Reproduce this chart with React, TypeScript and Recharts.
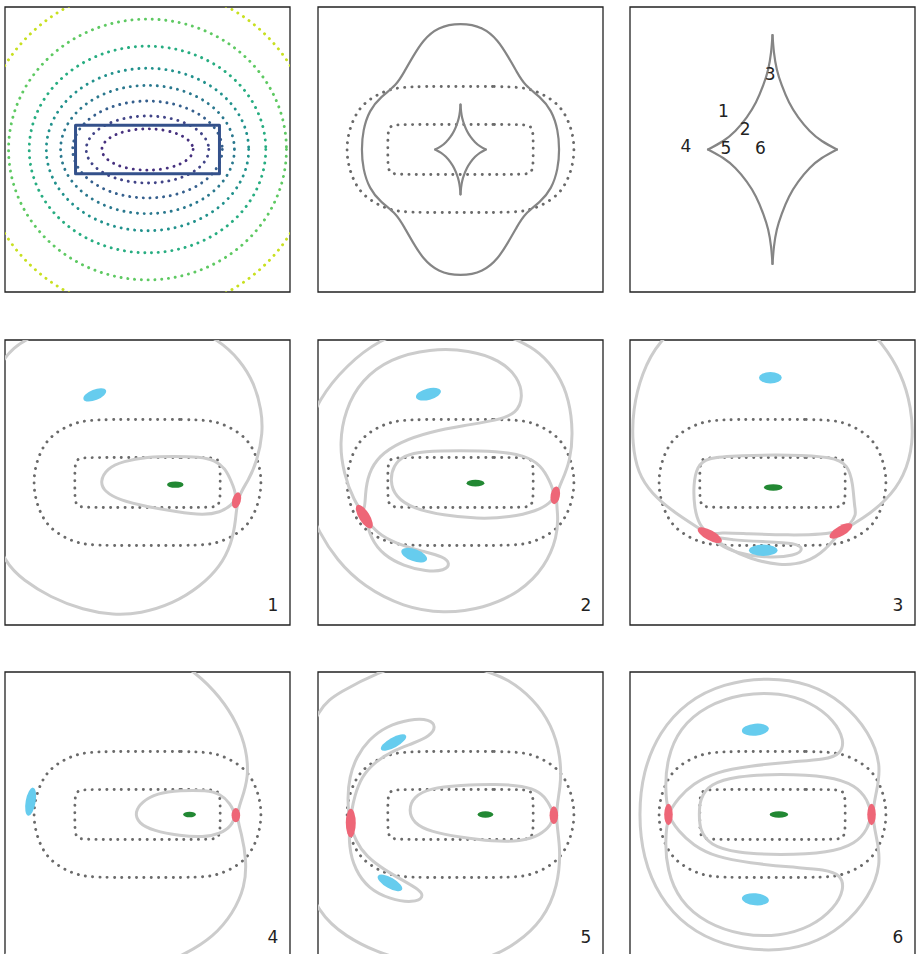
import React from 'react';
import { ScatterChart, Scatter, XAxis, YAxis, ReferenceArea } from 'recharts';

type XY = [number, number];
type Kind = 'min' | 'saddle' | 'max';
interface LensImage { kind: Kind; x: number; y: number; a: number; b: number; angle: number }

// ---- top row: potential contours, critical curves, caustics (lens units) ----
const contourLevels = [
  { level: 0, a: 0.64, b: 0.29 },
  { level: 1, a: 0.86, b: 0.47 },
  { level: 2, a: 1.05, b: 0.68 },
  { level: 3, a: 1.22, b: 0.9 },
  { level: 4, a: 1.42, b: 1.14 },
  { level: 5, a: 1.66, b: 1.45 },
  { level: 6, a: 1.95, b: 1.83 },
  { level: 7, a: 2.34, b: 2.28 },
];

const lensBox: XY[] = [[-1.01, 0.34], [1.01, 0.34], [1.01, -0.34], [-1.01, -0.34]];

const innerCritical: XY[] = [
  [0, 0.35], [0.5, 0.35], [0.85, 0.35], [0.95, 0.34], [1.0, 0.31], [1.02, 0.22], [1.02, 0], [1.02, -0.22],
  [1.0, -0.31], [0.95, -0.34], [0.85, -0.35], [0.5, -0.35], [0, -0.35], [-0.5, -0.35], [-0.85, -0.35],
  [-0.95, -0.34], [-1.0, -0.31], [-1.02, -0.22], [-1.02, 0], [-1.02, 0.22], [-1.0, 0.31], [-0.95, 0.34],
  [-0.85, 0.35], [-0.5, 0.35],
];

const outerCritical: XY[] = [
  [0, 0.885], [0.5, 0.885], [0.83, 0.875], [1.0, 0.84], [1.18, 0.765], [1.38, 0.63], [1.5, 0.44], [1.575, 0.22],
  [1.6, 0], [1.575, -0.22], [1.5, -0.44], [1.38, -0.63], [1.18, -0.765], [1.0, -0.84], [0.83, -0.875],
  [0.5, -0.885], [0, -0.885], [-0.5, -0.885], [-0.83, -0.875], [-1.0, -0.84], [-1.18, -0.765], [-1.38, -0.63],
  [-1.5, -0.44], [-1.575, -0.22], [-1.6, 0], [-1.575, 0.22], [-1.5, 0.44], [-1.38, 0.63], [-1.18, 0.765],
  [-1.0, 0.84], [-0.83, 0.875], [-0.5, 0.885],
];

const cutCurve: XY[] = [
  [0, 1.78], [0.32, 1.72], [0.53, 1.53], [0.67, 1.3], [0.79, 1.09], [0.9, 0.9], [1.12, 0.74], [1.28, 0.55],
  [1.37, 0.27], [1.39, 0], [1.37, -0.27], [1.28, -0.55], [1.12, -0.74], [0.9, -0.9], [0.79, -1.09],
  [0.67, -1.3], [0.53, -1.53], [0.32, -1.72], [0, -1.78], [-0.32, -1.72], [-0.53, -1.53], [-0.67, -1.3],
  [-0.79, -1.09], [-0.9, -0.9], [-1.12, -0.74], [-1.28, -0.55], [-1.37, -0.27], [-1.39, 0], [-1.37, 0.27],
  [-1.28, 0.55], [-1.12, 0.74], [-0.9, 0.9], [-0.79, 1.09], [-0.67, 1.3], [-0.53, 1.53], [-0.32, 1.72],
];

const causticTopRight: XY[] = [
  [0, 0.63], [0.008, 0.535], [0.024, 0.441], [0.051, 0.354], [0.091, 0.26], [0.142, 0.177], [0.205, 0.102],
  [0.272, 0.047], [0.355, 0],
];
const causticTopLeft: XY[] = [
  [0, 0.63], [-0.008, 0.535], [-0.024, 0.441], [-0.051, 0.354], [-0.091, 0.26], [-0.142, 0.177],
  [-0.205, 0.102], [-0.272, 0.047], [-0.355, 0],
];
const causticBottomRight: XY[] = [
  [0, -0.63], [0.008, -0.535], [0.024, -0.441], [0.051, -0.354], [0.091, -0.26], [0.142, -0.177],
  [0.205, -0.102], [0.272, -0.047], [0.355, 0],
];
const causticBottomLeft: XY[] = [
  [0, -0.63], [-0.008, -0.535], [-0.024, -0.441], [-0.051, -0.354], [-0.091, -0.26], [-0.142, -0.177],
  [-0.205, -0.102], [-0.272, -0.047], [-0.355, 0],
];

const sourcePositions = [
  { name: '1', x: -0.271, y: 0.21 },
  { name: '2', x: -0.151, y: 0.111 },
  { name: '3', x: -0.013, y: 0.415 },
  { name: '4', x: -0.477, y: 0.022 },
  { name: '5', x: -0.256, y: 0.006 },
  { name: '6', x: -0.066, y: 0.006 },
];

// ---- lensed views of sources 1..6 ----
const p1Outer: XY[] = [
  [1.26, -0.2], [1.42, 0.03], [1.54, 0.31], [1.62, 0.69], [1.6, 1.02], [1.5, 1.39], [1.3, 1.72], [0.99, 2.01],
  [0.55, 2.21], [-0.01, 2.33], [-0.57, 2.33], [-1.14, 2.23], [-1.6, 2.07], [-1.88, 1.9], [-2.12, 1.62],
  [-2.3, 0.92], [-2.35, 0.22], [-2.26, -0.48], [-2.0, -1.14], [-1.74, -1.37], [-1.37, -1.61], [-0.9, -1.79],
  [-0.48, -1.86], [-0.1, -1.84], [0.36, -1.7], [0.74, -1.46], [1.02, -1.18], [1.18, -0.86], [1.24, -0.53],
];
const p1Inner: XY[] = [
  [1.26, -0.2], [1.18, 0.01], [1.09, 0.2], [0.95, 0.31], [0.74, 0.36], [0.36, 0.37], [-0.01, 0.36],
  [-0.34, 0.3], [-0.57, 0.2], [-0.67, 0.01], [-0.6, -0.13], [-0.39, -0.25], [-0.01, -0.34], [0.41, -0.41],
  [0.78, -0.46], [1.02, -0.42], [1.18, -0.32],
];
const p1Images: LensImage[] = [
  { kind: 'min', x: -0.74, y: 1.23, a: 0.17, b: 0.075, angle: 22 },
  { kind: 'max', x: 0.39, y: -0.03, a: 0.115, b: 0.045, angle: 0 },
  { kind: 'saddle', x: 1.25, y: -0.25, a: 0.115, b: 0.06, angle: 75 },
];

const p2Outer: XY[] = [
  [1.33, -0.18], [1.43, 0.03], [1.54, 0.31], [1.58, 0.69], [1.53, 1.16], [1.37, 1.53], [1.12, 1.83],
  [0.79, 2.01], [0.37, 2.16], [-0.15, 2.21], [-0.66, 2.16], [-1.13, 2.01], [-1.6, 1.65], [-2.0, 1.16],
  [-2.16, 0.69], [-2.21, 0.13], [-2.11, -0.39], [-2.0, -0.67], [-1.74, -1.09], [-1.36, -1.46], [-0.8, -1.75],
  [-0.24, -1.84], [0.32, -1.77], [0.84, -1.54], [1.19, -1.18], [1.36, -0.76], [1.37, -0.44],
];
const p2Upper: XY[] = [
  [-1.34, -0.48], [-1.5, -0.25], [-1.64, 0.13], [-1.7, 0.55], [-1.62, 1.02], [-1.39, 1.44], [-0.99, 1.74],
  [-0.43, 1.88], [0.13, 1.86], [0.55, 1.72], [0.81, 1.48], [0.88, 1.2], [0.79, 0.97], [0.51, 0.87],
  [0.04, 0.8], [-0.43, 0.71], [-0.85, 0.57], [-1.15, 0.37], [-1.29, 0.13], [-1.34, -0.15],
];
const p2Lower: XY[] = [
  [-1.34, -0.48], [-1.18, -0.71], [-0.9, -0.86], [-0.52, -0.97], [-0.24, -1.04], [-0.14, -1.14],
  [-0.22, -1.24], [-0.48, -1.25], [-0.8, -1.17], [-1.08, -1.02], [-1.26, -0.79],
];
const p2Inner: XY[] = [
  [1.33, -0.18], [1.25, 0.03], [1.13, 0.24], [0.91, 0.38], [0.51, 0.44], [-0.01, 0.45], [-0.52, 0.44],
  [-0.8, 0.38], [-0.94, 0.24], [-0.99, 0.03], [-0.92, -0.2], [-0.66, -0.37], [-0.24, -0.46], [0.23, -0.51],
  [0.7, -0.49], [1.07, -0.4], [1.26, -0.29],
];
const p2Images: LensImage[] = [
  { kind: 'min', x: -0.45, y: 1.24, a: 0.18, b: 0.08, angle: 15 },
  { kind: 'min', x: -0.65, y: -1.02, a: 0.19, b: 0.085, angle: -20 },
  { kind: 'max', x: 0.21, y: -0.01, a: 0.125, b: 0.047, angle: 0 },
  { kind: 'saddle', x: -1.35, y: -0.48, a: 0.19, b: 0.075, angle: -58 },
  { kind: 'saddle', x: 1.33, y: -0.18, a: 0.125, b: 0.065, angle: 80 },
];

const p3Outer: XY[] = [
  [0.95, -0.68], [1.27, -0.51], [1.6, -0.25], [1.85, 0.08], [1.98, 0.55], [1.95, 1.06], [1.81, 1.53],
  [1.55, 1.95], [1.22, 2.28], [0.75, 2.49], [0.0, 2.56], [-0.74, 2.49], [-1.21, 2.28], [-1.59, 2.0],
  [-1.84, 1.53], [-1.96, 1.02], [-1.97, 0.55], [-1.89, 0.13], [-1.7, -0.15], [-1.4, -0.41], [-0.89, -0.73],
  [-0.63, -0.93], [-0.32, -1.07], [0.1, -1.17], [0.47, -1.13], [0.75, -0.95],
];
const p3Inner: XY[] = [
  [-0.88, -0.74], [-1.03, -0.6], [-1.1, -0.35], [-1.11, -0.02], [-1.06, 0.22], [-0.93, 0.35], [-0.46, 0.38],
  [0.24, 0.39], [0.85, 0.36], [1.06, 0.25], [1.13, -0.02], [1.15, -0.35], [1.18, -0.45], [1.08, -0.6],
  [0.96, -0.68], [0.71, -0.73], [0.24, -0.74], [-0.37, -0.72], [-0.74, -0.7],
];
const p3Lobe: XY[] = [
  [-0.88, -0.74], [-0.6, -0.81], [-0.09, -0.83], [0.33, -0.85], [0.44, -0.93], [0.33, -1.03], [-0.09, -1.06],
  [-0.51, -0.99], [-0.77, -0.86],
];
const p3Images: LensImage[] = [
  { kind: 'min', x: -0.03, y: 1.47, a: 0.16, b: 0.08, angle: 0 },
  { kind: 'min', x: -0.13, y: -0.95, a: 0.2, b: 0.08, angle: 0 },
  { kind: 'max', x: 0.01, y: -0.07, a: 0.13, b: 0.047, angle: 0 },
  { kind: 'saddle', x: -0.88, y: -0.74, a: 0.19, b: 0.07, angle: -29 },
  { kind: 'saddle', x: 0.96, y: -0.68, a: 0.18, b: 0.07, angle: 30 },
];

const p4Outer: XY[] = [
  [1.24, -0.01], [1.32, 0.2], [1.42, 0.53], [1.39, 0.91], [1.26, 1.28], [1.02, 1.65], [0.69, 1.99],
  [0.18, 2.31], [-0.67, 2.54], [-1.6, 2.45], [-2.44, 1.94], [-2.91, 1.23], [-3.1, 0.3], [-3.0, -0.64],
  [-2.54, -1.58], [-1.84, -2.14], [-0.9, -2.32], [0.04, -2.18], [0.55, -1.95], [0.92, -1.72], [1.2, -1.39],
  [1.37, -1.01], [1.39, -0.64], [1.32, -0.26],
];
const p4Inner: XY[] = [
  [1.24, -0.01], [1.16, 0.16], [1.02, 0.29], [0.83, 0.34], [0.46, 0.34], [0.13, 0.3], [-0.08, 0.18],
  [-0.18, 0.03], [-0.13, -0.12], [0.08, -0.23], [0.46, -0.3], [0.78, -0.32], [1.02, -0.27], [1.18, -0.16],
];
const p4Images: LensImage[] = [
  { kind: 'min', x: -1.64, y: 0.18, a: 0.2, b: 0.07, angle: 80 },
  { kind: 'max', x: 0.59, y: 0, a: 0.09, b: 0.04, angle: 0 },
  { kind: 'saddle', x: 1.24, y: -0.01, a: 0.1, b: 0.06, angle: 90 },
];

const p5Outer: XY[] = [
  [1.32, -0.01], [1.41, 0.39], [1.41, 0.81], [1.28, 1.26], [1.02, 1.63], [0.65, 1.91], [0.41, 1.99],
  [-0.01, 2.15], [-0.57, 2.19], [-1.18, 1.99], [-1.69, 1.72], [-2.0, 1.51], [-2.25, 0.77], [-2.35, 0.02],
  [-2.25, -0.73], [-2.0, -1.39], [-1.6, -1.72], [-1.18, -1.93], [-0.71, -2.07], [-0.15, -2.11], [0.41, -2.02],
  [0.79, -1.81], [1.16, -1.48], [1.37, -1.01], [1.41, -0.45],
];
const p5Inner: XY[] = [
  [1.32, -0.01], [1.23, 0.18], [1.12, 0.32], [0.88, 0.4], [0.51, 0.43], [-0.01, 0.41], [-0.43, 0.37],
  [-0.66, 0.25], [-0.73, 0.06], [-0.66, -0.12], [-0.43, -0.24], [-0.01, -0.32], [0.46, -0.38], [0.84, -0.38],
  [1.12, -0.29], [1.27, -0.15],
];
const p5Upper: XY[] = [
  [-1.55, -0.12], [-1.59, 0.2], [-1.56, 0.53], [-1.46, 0.81], [-1.29, 1.05], [-1.04, 1.24], [-0.71, 1.34],
  [-0.43, 1.34], [-0.34, 1.23], [-0.43, 1.1], [-0.66, 1.0], [-0.94, 0.9], [-1.2, 0.74], [-1.39, 0.53],
  [-1.49, 0.25], [-1.53, 0.04],
];
const p5Lower: XY[] = [
  [-1.55, -0.12], [-1.57, -0.45], [-1.48, -0.78], [-1.29, -1.04], [-0.99, -1.19], [-0.66, -1.24],
  [-0.51, -1.16], [-0.57, -1.06], [-0.8, -0.93], [-1.08, -0.77], [-1.32, -0.59], [-1.47, -0.38],
];
const p5Images: LensImage[] = [
  { kind: 'min', x: -0.94, y: 1.01, a: 0.2, b: 0.07, angle: 29 },
  { kind: 'min', x: -0.99, y: -0.96, a: 0.195, b: 0.075, angle: -30 },
  { kind: 'max', x: 0.35, y: 0, a: 0.11, b: 0.045, angle: 0 },
  { kind: 'saddle', x: -1.54, y: -0.12, a: 0.2, b: 0.07, angle: 90 },
  { kind: 'saddle', x: 1.31, y: -0.01, a: 0.125, b: 0.06, angle: 90 },
];

const p6Outer: XY[] = [
  [1.39, 0], [1.46, 0.32], [1.53, 0.69], [1.36, 1.16], [0.99, 1.58], [0.52, 1.84], [-0.04, 1.93],
  [-0.7, 1.84], [-1.21, 1.58], [-1.59, 1.16], [-1.82, 0.6], [-1.88, 0], [-1.82, -0.6], [-1.59, -1.16],
  [-1.21, -1.58], [-0.7, -1.84], [-0.04, -1.93], [0.52, -1.84], [0.99, -1.58], [1.36, -1.16], [1.53, -0.69],
  [1.46, -0.32],
];
const p6Upper: XY[] = [
  [-1.46, 0], [-1.51, 0.36], [-1.48, 0.78], [-1.31, 1.21], [-0.93, 1.53], [-0.42, 1.7], [0.1, 1.71],
  [0.54, 1.58], [0.87, 1.32], [1.01, 1.04], [0.96, 0.85], [0.75, 0.77], [0.24, 0.74], [-0.32, 0.68],
  [-0.79, 0.6], [-1.12, 0.43], [-1.33, 0.22], [-1.42, 0.08],
];
const p6Lower: XY[] = [
  [-1.46, 0], [-1.51, -0.36], [-1.48, -0.78], [-1.31, -1.21], [-0.93, -1.53], [-0.42, -1.7], [0.1, -1.71],
  [0.54, -1.58], [0.87, -1.32], [1.01, -1.04], [0.96, -0.85], [0.75, -0.77], [0.24, -0.74], [-0.32, -0.68],
  [-0.79, -0.6], [-1.12, -0.43], [-1.33, -0.22], [-1.42, -0.08],
];
const p6Inner: XY[] = [
  [1.39, 0], [1.34, 0.2], [1.17, 0.41], [0.8, 0.54], [0.1, 0.57], [-0.51, 0.54], [-0.88, 0.43], [-1.02, 0.22],
  [-1.03, 0], [-1.02, -0.22], [-0.88, -0.43], [-0.51, -0.54], [0.1, -0.57], [0.8, -0.54], [1.17, -0.41],
  [1.34, -0.2],
];
const p6Images: LensImage[] = [
  { kind: 'min', x: -0.24, y: 1.19, a: 0.19, b: 0.084, angle: 5 },
  { kind: 'min', x: -0.24, y: -1.19, a: 0.19, b: 0.084, angle: -5 },
  { kind: 'max', x: 0.09, y: 0, a: 0.13, b: 0.047, angle: 0 },
  { kind: 'saddle', x: -1.46, y: 0, a: 0.15, b: 0.06, angle: 90 },
  { kind: 'saddle', x: 1.39, y: 0, a: 0.15, b: 0.06, angle: 90 },
];

const lensedViews = [
  { source: '1', loops: [p1Outer, p1Inner], images: p1Images },
  { source: '2', loops: [p2Outer, p2Upper, p2Lower, p2Inner], images: p2Images },
  { source: '3', loops: [p3Outer, p3Inner, p3Lobe], images: p3Images },
  { source: '4', loops: [p4Outer, p4Inner], images: p4Images },
  { source: '5', loops: [p5Outer, p5Inner, p5Upper, p5Lower], images: p5Images },
  { source: '6', loops: [p6Outer, p6Inner, p6Upper, p6Lower], images: p6Images },
];

// ---- layout / styles ----
const PLOT = 285;
const COL_LEFT = [5, 318, 630];
const ROW_TOP = [7, 340, 672];
const CORNER = { x: 1.76, y: -1.72 };
const VIRIDIS = ['#46307e', '#414487', '#355f8d', '#2a788e', '#21918c', '#27ad81', '#5ec962', '#c8e020'];
const IMAGE_COLORS: Record<Kind, string> = { max: '#228833', min: '#66ccee', saddle: '#ee6677' };
const DOTS = '0.1 7.2';

const pts = (arr: XY[]) => arr.map(([x, y]) => ({ x, y }));
const noDot = () => <g />;

const curve = (key: string, data: XY[], stroke: string, width: number, joint: any, dash?: string) => (
  <Scatter
    key={key}
    data={pts(data)}
    shape={noDot}
    isAnimationActive={false}
    line={{ stroke, strokeWidth: width, strokeDasharray: dash, strokeLinecap: 'round', strokeLinejoin: 'round' }}
    lineType="joint"
    lineJointType={joint}
  />
);

const ellipseShape = (k: number, fill: string) => (props: any) => {
  const { cx, cy, payload } = props;
  return (
    <ellipse cx={cx} cy={cy} rx={payload.a * k} ry={payload.b * k} fill={fill}
      transform={`rotate(${-payload.angle} ${cx} ${cy})`} />
  );
};

const contourShape = (k: number) => (props: any) => {
  const { cx, cy, payload } = props;
  return (
    <ellipse cx={cx} cy={cy} rx={payload.a * k} ry={payload.b * k} fill="none"
      stroke={VIRIDIS[payload.level]} strokeWidth={2.9} strokeDasharray="0.1 6.7" strokeLinecap="round" />
  );
};

const textShape = (size: number) => (props: any) => (
  <text x={props.cx} y={props.cy} textAnchor="middle" dominantBaseline="central" fontSize={size}
    fontFamily="DejaVu Sans" fill="#222">{props.payload.name}</text>
);

const renderPanel = (key: string, col: number, row: number, span: number, children: React.ReactNode[]) => (
  <div key={key} style={{ position: 'absolute', left: COL_LEFT[col] - 1, top: ROW_TOP[row] - 1 }}>
    <ScatterChart width={PLOT + 2} height={PLOT + 2} margin={{ top: 1, right: 1, bottom: 1, left: 1 }}>
      <XAxis type="number" dataKey="x" domain={[-span, span]} hide allowDataOverflow />
      <YAxis type="number" dataKey="y" domain={[-span, span]} hide allowDataOverflow />
      {children}
      <ReferenceArea x1={-span} x2={span} y1={-span} y2={span} fill="none" stroke="#222" strokeWidth={1.3} />
    </ScatterChart>
  </div>
);

const criticalCurves = () => [
  curve('crit-in', innerCritical, '#6a6a6a', 2.9, 'basisClosed', DOTS),
  curve('crit-out', outerCritical, '#6a6a6a', 2.9, 'basisClosed', DOTS),
];

const caustic = (width: number) => [
  curve('c-tr', causticTopRight, '#858585', width, 'natural'),
  curve('c-tl', causticTopLeft, '#858585', width, 'natural'),
  curve('c-br', causticBottomRight, '#858585', width, 'natural'),
  curve('c-bl', causticBottomLeft, '#858585', width, 'natural'),
];

export default function App() {
  const K = PLOT / 4;
  const zoomSpan = 0.785;
  return (
    <div style={{ position: 'absolute', left: 0, top: 0, width: 916, height: 954, background: '#fff', overflow: 'hidden' }}>
      {renderPanel('potential', 0, 0, 2, [
        <Scatter key="contours" data={contourLevels.map((c) => ({ ...c, x: 0, y: 0 }))}
          shape={contourShape(K)} isAnimationActive={false} />,
        curve('box', lensBox, '#34518b', 3, 'linearClosed'),
      ])}
      {renderPanel('critical', 1, 0, 2, [
        ...criticalCurves(),
        curve('cut', cutCurve, '#858585', 2.2, 'basisClosed'),
        ...caustic(2.2),
      ])}
      {renderPanel('sources', 2, 0, zoomSpan, [
        ...caustic(2.2),
        <Scatter key="src" data={sourcePositions} shape={textShape(17)} isAnimationActive={false} />,
      ])}
      {lensedViews.map((view, i) =>
        renderPanel(`lens-${i}`, i % 3, 1 + Math.floor(i / 3), 2, [
          ...criticalCurves(),
          ...view.loops.map((loop, j) => curve(`loop-${j}`, loop, '#cccccc', 3, 'basisClosed')),
          ...(['max', 'min', 'saddle'] as Kind[]).map((kind) => (
            <Scatter key={kind} data={view.images.filter((im) => im.kind === kind)}
              shape={ellipseShape(K, IMAGE_COLORS[kind])} isAnimationActive={false} />
          )),
          <Scatter key="label" data={[{ ...CORNER, name: view.source }]} shape={textShape(17)}
            isAnimationActive={false} />,
        ])
      )}
    </div>
  );
}
